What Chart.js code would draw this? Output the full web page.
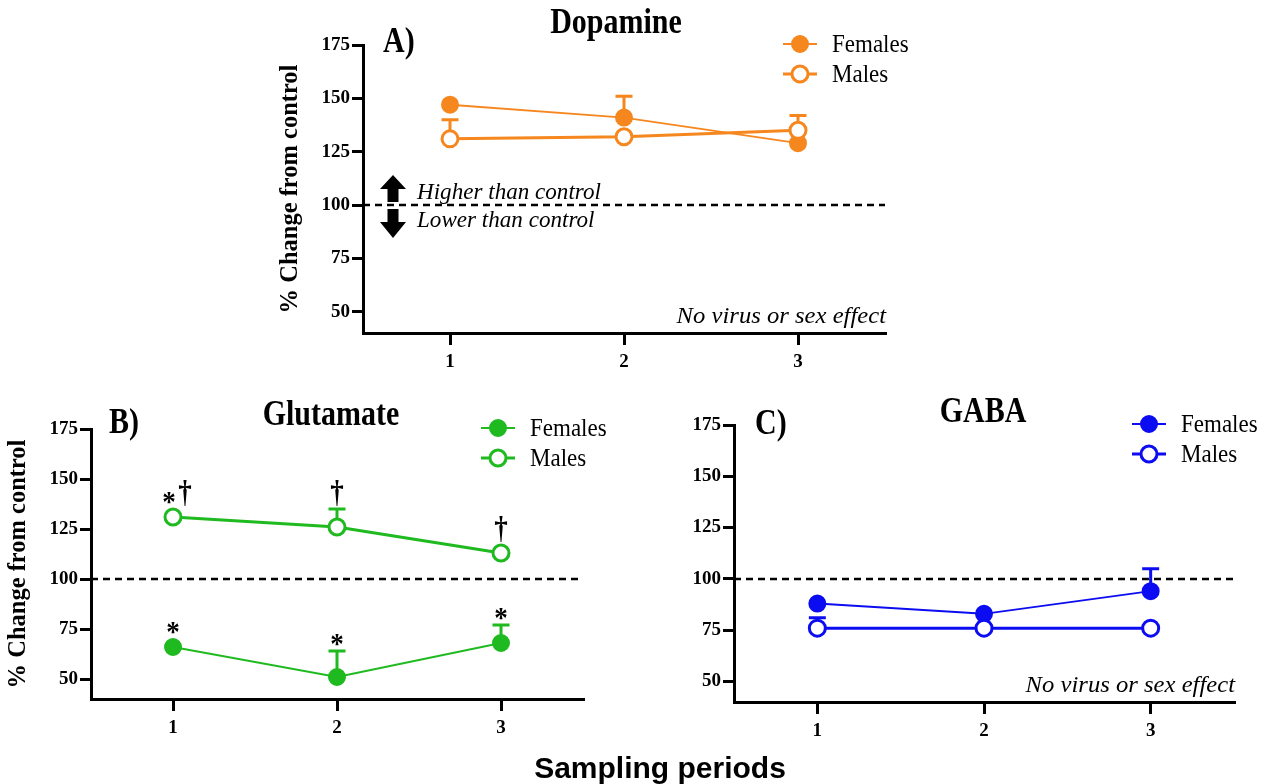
<!DOCTYPE html>
<html><head><meta charset="utf-8">
<script src="https://cdn.jsdelivr.net/npm/chart.js@4.4.0/dist/chart.umd.min.js"></script>
<style>
html,body{margin:0;padding:0;background:#fff;width:1268px;height:784px;overflow:hidden;}
canvas.panel{position:absolute;}
#xlabel{position:absolute;left:410px;width:500px;top:751px;line-height:34px;text-align:center;font:bold 30px "Liberation Sans",Arial,sans-serif;color:#000;}
</style></head><body>
<canvas id="cA" class="panel" style="left:260px;top:0px;" width="660" height="385"></canvas>
<canvas id="cB" class="panel" style="left:0px;top:385px;" width="620" height="370"></canvas>
<canvas id="cC" class="panel" style="left:640px;top:385px;" width="628" height="370"></canvas>
<div id="xlabel">Sampling periods</div>
<script>
// ---- data ----
const periods = [1, 2, 3];
const xTicks = [1, 2, 3];
const yTicks = [50, 75, 100, 125, 150, 175];
const controlLevel = 100;
const seriesNames = ['Females', 'Males'];

const dopamineFemales = [147, 141, 129];
const dopamineFemalesErr = [0, 10, 0];
const dopamineMales = [131, 132, 135];
const dopamineMalesErr = [9, 0, 7];

const glutamateFemales = [66, 51, 68];
const glutamateFemalesErr = [0, 13, 9];
const glutamateMales = [131, 126, 113];
const glutamateMalesErr = [0, 9, 0];
const glutamateFemalesMarks = ['*', '*', '*'];
const glutamateMalesMarks = ['*†', '†', '†'];

const gabaFemales = [88, 83, 94];
const gabaFemalesErr = [0, 0, 11];
const gabaMales = [76, 76, 76];
const gabaMalesErr = [5, 0, 0];

const SERIF = "'Liberation Serif','Times New Roman',serif";

function sText(ctx, text, x, y, sx, sy) {
  ctx.save();
  ctx.translate(x, y);
  ctx.scale(sx, sy);
  ctx.fillText(text, 0, 0);
  ctx.restore();
}

const panelPlugin = {
  id: 'panelDecor',
  beforeDatasetsDraw(chart) {
    const {ctx, chartArea, scales: {x, y}} = chart;
    const y100 = y.getPixelForValue(controlLevel);
    ctx.save();
    ctx.setLineDash([7, 5]);
    ctx.lineWidth = 2.5;
    ctx.strokeStyle = '#000';
    ctx.beginPath();
    ctx.moveTo(chartArea.left, y100);
    ctx.lineTo(chartArea.right, y100);
    ctx.stroke();
    ctx.setLineDash([]);
    chart.data.datasets.forEach(ds => {
      ds.data.forEach((pt, i) => {
        const e = ds.errors[i];
        if (!e) return;
        const px = x.getPixelForValue(pt.x);
        const y0 = y.getPixelForValue(pt.y);
        const y1 = y.getPixelForValue(pt.y + e);
        ctx.strokeStyle = ds.borderColor;
        ctx.lineWidth = 3;
        ctx.beginPath();
        ctx.moveTo(px, y0);
        ctx.lineTo(px, y1);
        ctx.moveTo(px - 8.5, y1);
        ctx.lineTo(px + 8.5, y1);
        ctx.stroke();
      });
    });
    ctx.restore();
  },
  afterDraw(chart) {
    const p = chart.options.plugins.panelDecor;
    const {ctx, chartArea, scales: {x, y}} = chart;
    const ca = chartArea;
    ctx.save();
    ctx.fillStyle = '#000';
    ctx.textBaseline = 'alphabetic';
    // title
    ctx.font = 'bold 30px ' + SERIF;
    ctx.textAlign = 'center';
    sText(ctx, p.title, (ca.left + ca.right) / 2 + p.titleDx, ca.top + p.titleBase, 1, 1.2);
    // panel letter
    ctx.textAlign = 'left';
    sText(ctx, p.letter, ca.left + p.letterDx, ca.top + p.letterBase, 1, 1.2);
    // y title
    if (p.yTitle) {
      ctx.save();
      ctx.translate(ca.left - 72, (ca.top + ca.bottom) / 2);
      ctx.rotate(-Math.PI / 2);
      ctx.font = 'bold 24.5px ' + SERIF;
      ctx.textAlign = 'center';
      ctx.textBaseline = 'middle';
      ctx.fillText('% Change from control', 0, 0);
      ctx.restore();
    }
    // note
    if (p.note) {
      ctx.font = 'italic 22px ' + SERIF;
      ctx.textAlign = 'right';
      sText(ctx, p.note, ca.right + 1, ca.bottom - 10, 1.12, 1.05);
    }
    // arrows
    if (p.arrows) {
      const y100 = y.getPixelForValue(controlLevel);
      const ax = ca.left + 30;
      ctx.beginPath();
      ctx.moveTo(ax, y100 - 30);
      ctx.lineTo(ax + 13, y100 - 16);
      ctx.lineTo(ax + 5.5, y100 - 16);
      ctx.lineTo(ax + 5.5, y100 - 3);
      ctx.lineTo(ax - 5.5, y100 - 3);
      ctx.lineTo(ax - 5.5, y100 - 16);
      ctx.lineTo(ax - 13, y100 - 16);
      ctx.closePath();
      ctx.fill();
      ctx.beginPath();
      ctx.moveTo(ax, y100 + 33);
      ctx.lineTo(ax + 13, y100 + 17);
      ctx.lineTo(ax + 5.5, y100 + 17);
      ctx.lineTo(ax + 5.5, y100 + 4);
      ctx.lineTo(ax - 5.5, y100 + 4);
      ctx.lineTo(ax - 5.5, y100 + 17);
      ctx.lineTo(ax - 13, y100 + 17);
      ctx.closePath();
      ctx.fill();
      ctx.font = 'italic 21px ' + SERIF;
      ctx.textAlign = 'left';
      sText(ctx, 'Higher than control', ca.left + 54, y100 - 6, 1.1, 1.05);
      sText(ctx, 'Lower than control', ca.left + 54, y100 + 22, 1.1, 1.05);
    }
    // legend
    chart.data.datasets.forEach((ds, i) => {
      const mx = ca.right - 85;
      const my = ca.top - 1 + i * 30;
      ctx.strokeStyle = ds.borderColor;
      ctx.lineWidth = ds.borderWidth;
      ctx.beginPath();
      ctx.moveTo(mx - 17, my);
      ctx.lineTo(mx + 17, my);
      ctx.stroke();
      ctx.beginPath();
      ctx.arc(mx, my, ds.pointRadius, 0, Math.PI * 2);
      ctx.fillStyle = ds.pointBackgroundColor;
      ctx.fill();
      ctx.lineWidth = ds.pointBorderWidth;
      ctx.strokeStyle = ds.pointBorderColor;
      ctx.stroke();
      ctx.fillStyle = '#000';
      ctx.font = '23px ' + SERIF;
      ctx.textAlign = 'left';
      ctx.textBaseline = 'middle';
      sText(ctx, ds.label, mx + 32, my + 1, 1, 1.12);
      ctx.textBaseline = 'alphabetic';
    });
    // significance marks
    chart.data.datasets.forEach(ds => {
      if (!ds.marks) return;
      ds.data.forEach((pt, i) => {
        const m = ds.marks[i];
        if (!m) return;
        const px = x.getPixelForValue(pt.x);
        let anchor = y.getPixelForValue(pt.y) - 8;
        if (ds.errors[i]) anchor = Math.min(anchor, y.getPixelForValue(pt.y + ds.errors[i]));
        const chars = Array.from(m);
        chars.forEach((c, k) => {
          let cx = px;
          if (chars.length > 1) cx = px + (k === 0 ? -4 : 12);
          ctx.font = 'bold 27px ' + SERIF;
          ctx.textAlign = 'center';
          ctx.fillStyle = '#000';
          if (c === '*') sText(ctx, c, cx, anchor + 2, 1, 1.1);
          else sText(ctx, c, cx, anchor - 7, 1, 1.2);
        });
      });
    });
    ctx.restore();
  }
};

function axisCommon(tickLen, pad) {
  return {
    grid: {display: true, drawOnChartArea: false, drawTicks: true, tickLength: tickLen, color: '#000', lineWidth: 3},
    border: {display: true, color: '#000', width: 3},
    ticks: {font: {family: SERIF, size: 19, weight: 'bold'}, color: '#000', padding: pad}
  };
}

function makeChart(id, cfg) {
  const xAxis = Object.assign({
    type: 'linear', min: 0.5, max: 3.5,
    afterBuildTicks: s => { s.ticks = xTicks.map(v => ({value: v})); },
    afterFit: s => { s.height = 45; }
  }, axisCommon(12, 6));
  const yAxis = Object.assign({
    type: 'linear', min: 40, max: 175,
    afterBuildTicks: s => { s.ticks = yTicks.map(v => ({value: v})); },
    afterFit: s => { s.width = 60; }
  }, axisCommon(11, 2));
  return new Chart(document.getElementById(id), {
    type: 'line',
    data: {
      datasets: [
        {
          label: seriesNames[0],
          data: periods.map((p, i) => ({x: p, y: cfg.females[i]})),
          errors: cfg.femalesErr, marks: cfg.femalesMarks,
          borderColor: cfg.color, backgroundColor: cfg.color, borderWidth: 1.8,
          pointRadius: 8, pointBorderWidth: 2, pointBackgroundColor: cfg.color, pointBorderColor: cfg.color,
          order: 1, tension: 0
        },
        {
          label: seriesNames[1],
          data: periods.map((p, i) => ({x: p, y: cfg.males[i]})),
          errors: cfg.malesErr, marks: cfg.malesMarks,
          borderColor: cfg.color, backgroundColor: '#fff', borderWidth: 3,
          pointRadius: 8, pointBorderWidth: 3, pointBackgroundColor: '#fff', pointBorderColor: cfg.color,
          order: 0, tension: 0
        }
      ]
    },
    options: {
      responsive: false, animation: false, devicePixelRatio: 1,
      layout: {padding: cfg.padding},
      plugins: {legend: {display: false}, tooltip: {enabled: false}, panelDecor: cfg.decor},
      scales: {x: xAxis, y: yAxis}
    },
    plugins: [panelPlugin]
  });
}

makeChart('cA', {
  color: '#F6871F',
  females: dopamineFemales, femalesErr: dopamineFemalesErr,
  males: dopamineMales, malesErr: dopamineMalesErr,
  padding: {left: 43, top: 45, right: 35, bottom: 7},
  decor: {title: 'Dopamine', titleDx: -8, titleBase: -12, letter: 'A)', letterDx: 20, letterBase: 7,
          yTitle: true, note: 'No virus or sex effect', arrows: true}
});
makeChart('cB', {
  color: '#1FBA1F',
  females: glutamateFemales, femalesErr: glutamateFemalesErr, femalesMarks: glutamateFemalesMarks,
  males: glutamateMales, malesErr: glutamateMalesErr, malesMarks: glutamateMalesMarks,
  padding: {left: 31, top: 44, right: 37, bottom: 11},
  decor: {title: 'Glutamate', titleDx: -6, titleBase: -4, letter: 'B)', letterDx: 18, letterBase: 4,
          yTitle: true, note: null, arrows: false}
});
makeChart('cC', {
  color: '#0C0CF2',
  females: gabaFemales, femalesErr: gabaFemalesErr,
  males: gabaMales, malesErr: gabaMalesErr,
  padding: {left: 34, top: 40, right: 34, bottom: 8},
  decor: {title: 'GABA', titleDx: -1, titleBase: -3, letter: 'C)', letterDx: 21, letterBase: 9,
          yTitle: false, note: 'No virus or sex effect', arrows: false}
});
</script>
</body></html>
